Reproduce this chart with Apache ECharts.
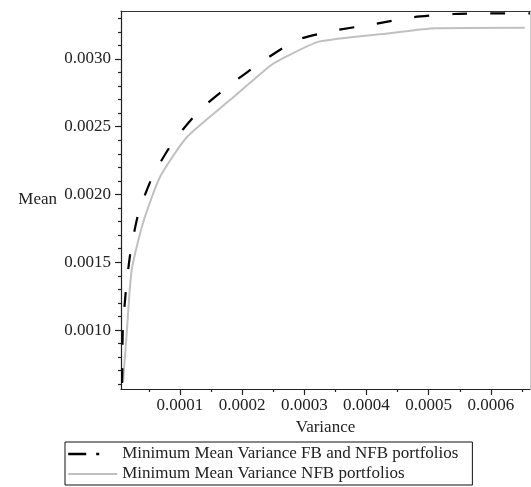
<!DOCTYPE html>
<html><head><meta charset="utf-8">
<script src="https://cdn.jsdelivr.net/npm/echarts@6/dist/echarts.min.js"></script>
<style>html,body{margin:0;padding:0;background:#fff}#c{width:531px;height:487px}</style>
</head><body><div id="c"></div>
<script>
const seriesNames = ['Minimum Mean Variance FB and NFB portfolios', 'Minimum Mean Variance NFB portfolios'];
const axisNames = ['Variance', 'Mean'];

const varianceFB = [0.0000068, 0.0000072, 0.0000080, 0.0000127, 0.0000204, 0.0000333, 0.0000558, 0.0000887, 0.0001322, 0.0001804, 0.0002334, 0.0002881, 0.0003476, 0.0004135, 0.0004746, 0.0005405, 0.0006048, 0.000663];
const meanFB     = [0.000609, 0.000697, 0.000993, 0.001280, 0.001576, 0.001863, 0.002133, 0.002387, 0.002624, 0.002808, 0.002985, 0.003140, 0.003209, 0.003258, 0.003308, 0.003332, 0.003337, 0.003337];

const varianceNFB = [0.0000084, 0.0000143, 0.0000223, 0.0000405, 0.0000678, 0.0001113, 0.0001804, 0.0002447, 0.0002608, 0.0003235, 0.0004376, 0.000510, 0.0006547];
const meanNFB     = [0.000616, 0.000978, 0.001443, 0.001790, 0.002129, 0.002424, 0.002697, 0.002948, 0.002993, 0.003128, 0.003190, 0.003227, 0.003231];

const xMajorTicks = [0.0001, 0.0002, 0.0003, 0.0004, 0.0005, 0.0006];
const xMinorTicks = [0.00005, 0.00015, 0.00025, 0.00035, 0.00045, 0.00055, 0.00065];
const yMajorTicks = [0.0010, 0.0015, 0.0020, 0.0025, 0.0030];
const yMinorTicks = [0.0006, 0.0007, 0.0008, 0.0009, 0.0011, 0.0012, 0.0013, 0.0014, 0.0016, 0.0017, 0.0018, 0.0019, 0.0021, 0.0022, 0.0023, 0.0024, 0.0026, 0.0027, 0.0028, 0.0029, 0.0031, 0.0032, 0.0033];

const xMin = 0.0000051, xMax = 0.000663;
const yMin = 0.000565, yMax = 0.003354;

const FONT = "'Liberation Serif', 'Times New Roman', serif";
const INK = '#222';
const FS = 17;

function pairs(xs, ys) { return xs.map((x, i) => [x, ys[i]]); }

const chart = echarts.init(document.getElementById('c'), null, { renderer: 'canvas' });
chart.setOption({
  animation: false,
  backgroundColor: '#fff',
  grid: { left: 121, right: 1, top: 11, bottom: 98, containLabel: false },
  xAxis: [
    {
      type: 'value', min: xMin, max: xMax, position: 'bottom',
      name: axisNames[0], nameLocation: 'middle', nameGap: 25,
      nameTextStyle: { fontFamily: FONT, fontSize: FS, color: INK },
      axisLine: { show: true, onZero: false, lineStyle: { color: INK, width: 1.2 } },
      axisTick: { show: true, customValues: xMajorTicks, length: 6, lineStyle: { color: INK, width: 1.2 } },
      axisLabel: { customValues: xMajorTicks, formatter: v => v.toFixed(4), fontFamily: FONT, fontSize: FS, color: INK, margin: 8 },
      splitLine: { show: false }
    },
    {
      type: 'value', min: xMin, max: xMax, position: 'bottom',
      axisLine: { show: false },
      axisTick: { show: true, customValues: xMinorTicks, length: 3, lineStyle: { color: INK, width: 1.2 } },
      axisLabel: { show: false }, splitLine: { show: false }
    },
    {
      type: 'value', min: xMin, max: xMax, position: 'top',
      axisLine: { show: true, onZero: false, lineStyle: { color: '#333', width: 1.2 } },
      axisTick: { show: false }, axisLabel: { show: false }, splitLine: { show: false }
    }
  ],
  yAxis: [
    {
      type: 'value', min: yMin, max: yMax, position: 'left',
      name: axisNames[1], nameLocation: 'middle', nameGap: 64, nameRotate: 0,
      nameTextStyle: { fontFamily: FONT, fontSize: FS, color: INK },
      axisLine: { show: true, onZero: false, lineStyle: { color: INK, width: 1.2 } },
      axisTick: { show: true, customValues: yMajorTicks, length: 6, lineStyle: { color: INK, width: 1.2 } },
      axisLabel: { customValues: yMajorTicks, formatter: v => v.toFixed(4), fontFamily: FONT, fontSize: FS, color: INK, margin: 10 },
      splitLine: { show: false }
    },
    {
      type: 'value', min: yMin, max: yMax, position: 'left',
      axisLine: { show: false },
      axisTick: { show: true, customValues: yMinorTicks, length: 3, lineStyle: { color: INK, width: 1.2 } },
      axisLabel: { show: false }, splitLine: { show: false }
    },
    {
      type: 'value', min: yMin, max: yMax, position: 'right',
      axisLine: { show: true, onZero: false, lineStyle: { color: '#c8c8c8', width: 1 } },
      axisTick: { show: false }, axisLabel: { show: false }, splitLine: { show: false }
    }
  ],
  legend: {
    orient: 'vertical', left: 65, top: 442,
    backgroundColor: 'rgba(255,255,255,0)',
    borderColor: '#111', borderWidth: 1, borderRadius: 0,
    padding: [2, 14, 1, 2], itemGap: 0, itemWidth: 49, itemHeight: 14,
    itemStyle: { opacity: 0, borderWidth: 0 },
    textStyle: { fontFamily: FONT, fontSize: FS, color: INK, lineHeight: 20 },
    data: [
      { name: seriesNames[0], itemStyle: { opacity: 0, borderWidth: 0 }, lineStyle: { type: [18, 10, 3, 100], width: 2.4, color: '#000' } },
      { name: seriesNames[1], itemStyle: { opacity: 0, borderWidth: 0 }, lineStyle: { type: 'solid', width: 2, color: '#c0c0c0' } }
    ]
  },
  series: [
    {
      name: seriesNames[1], type: 'line', xAxisIndex: 0, yAxisIndex: 0,
      data: pairs(varianceNFB, meanNFB), symbol: 'none', smooth: 0.2,
      lineStyle: { color: '#c0c0c0', width: 2 }, itemStyle: { color: '#c0c0c0' }, z: 2
    },
    {
      name: seriesNames[0], type: 'line', xAxisIndex: 0, yAxisIndex: 0,
      data: pairs(varianceFB, meanFB), symbol: 'none', smooth: 0.2,
      lineStyle: { color: '#000', width: 2.2, type: [15, 23] }, itemStyle: { color: '#000' }, z: 3
    }
  ]
});
</script>
</body></html>
